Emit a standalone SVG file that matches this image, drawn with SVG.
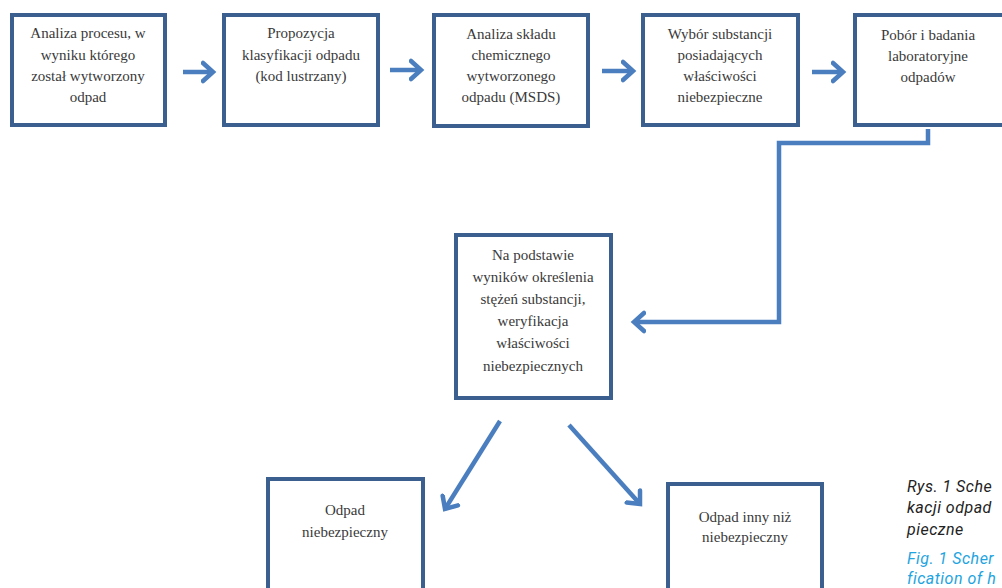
<svg xmlns="http://www.w3.org/2000/svg" width="1002" height="588" viewBox="0 0 1002 588">
<defs>
<style>
.box{fill:#ffffff;stroke:#3b5f8e;stroke-width:4}
.t{font-family:"Liberation Serif","Times New Roman",serif;font-size:15px;fill:#3a3a3a;text-anchor:middle}
.c{fill:none;stroke:#4a7ebf;stroke-width:4.5;stroke-linejoin:miter}
.cap{font-family:Roboto,"Liberation Sans",sans-serif;font-style:italic;font-size:16px;fill:#222222;letter-spacing:0.5px}
.capb{font-family:Roboto,"Liberation Sans",sans-serif;font-style:italic;font-size:16px;fill:#1ea4e0;letter-spacing:0.5px}
</style>
<marker id="ah" markerUnits="userSpaceOnUse" markerWidth="24" markerHeight="24" refX="12" refY="10" orient="auto" viewBox="0 0 24 20">
<path d="M2,1 L12,10 L2,19" fill="none" stroke="#4a7ebf" stroke-width="4.5" stroke-linecap="round" stroke-linejoin="miter"/>
</marker>
</defs>
<rect width="1002" height="588" fill="#ffffff"/>
<g id="n1">
<rect class="box" x="12" y="15" width="153" height="110"/>
<text class="t" x="88" y="38">Analiza procesu, w</text>
<text class="t" x="88" y="60">wyniku którego</text>
<text class="t" x="88" y="81">został wytworzony</text>
<text class="t" x="88" y="102">odpad</text>
</g>
<g id="n2">
<rect class="box" x="224" y="15" width="154" height="110"/>
<text class="t" x="301" y="38">Propozycja</text>
<text class="t" x="301" y="60">klasyfikacji odpadu</text>
<text class="t" x="301" y="81">(kod lustrzany)</text>
</g>
<g id="n3">
<rect class="box" x="434" y="15" width="154" height="111"/>
<text class="t" x="511" y="39">Analiza składu</text>
<text class="t" x="511" y="60">chemicznego</text>
<text class="t" x="511" y="81">wytworzonego</text>
<text class="t" x="511" y="102">odpadu (MSDS)</text>
</g>
<g id="n4">
<rect class="box" x="643" y="15" width="155" height="110"/>
<text class="t" x="720" y="39">Wybór substancji</text>
<text class="t" x="720" y="60">posiadających</text>
<text class="t" x="720" y="81">właściwości</text>
<text class="t" x="720" y="102">niebezpieczne</text>
</g>
<g id="n5">
<rect class="box" x="855" y="15" width="160" height="110"/>
<text class="t" x="928" y="40">Pobór i badania</text>
<text class="t" x="928" y="61">laboratoryjne</text>
<text class="t" x="928" y="82">odpadów</text>
</g>
<g id="n6">
<rect class="box" x="456" y="235" width="155" height="163"/>
<text class="t" x="533" y="260">Na podstawie</text>
<text class="t" x="533" y="282">wyników określenia</text>
<text class="t" x="533" y="304">stężeń substancji,</text>
<text class="t" x="533" y="326">weryfikacja</text>
<text class="t" x="533" y="348">właściwości</text>
<text class="t" x="533" y="371">niebezpiecznych</text>
</g>
<g id="n7">
<rect class="box" x="268" y="479" width="155" height="125"/>
<text class="t" x="345" y="515">Odpad</text>
<text class="t" x="345" y="537">niebezpieczny</text>
</g>
<g id="n8">
<rect class="box" x="668" y="484" width="154" height="120"/>
<text class="t" x="745" y="522">Odpad inny niż</text>
<text class="t" x="745" y="542">niebezpieczny</text>
</g>
<g id="connectors">
<line class="c" x1="183" y1="72" x2="213" y2="72" marker-end="url(#ah)"/>
<line class="c" x1="390" y1="70" x2="421" y2="70" marker-end="url(#ah)"/>
<line class="c" x1="602" y1="71" x2="633" y2="71" marker-end="url(#ah)"/>
<line class="c" x1="812" y1="72" x2="843" y2="72" marker-end="url(#ah)"/>
<polyline class="c" points="928,129 928,143 779,143 779,322 634,322" marker-end="url(#ah)"/>
<line class="c" x1="500" y1="421" x2="445" y2="509" marker-end="url(#ah)"/>
<line class="c" x1="569" y1="425" x2="640" y2="504" marker-end="url(#ah)"/>
</g>
<g id="caption">
<text class="cap" x="907" y="492">Rys. 1 Sche</text>
<text class="cap" x="907" y="513">kacji odpad</text>
<text class="cap" x="907" y="535">pieczne</text>
<text class="capb" x="907" y="564">Fig. 1 Scher</text>
<text class="capb" x="907" y="584">fication of h</text>
</g>
</svg>
